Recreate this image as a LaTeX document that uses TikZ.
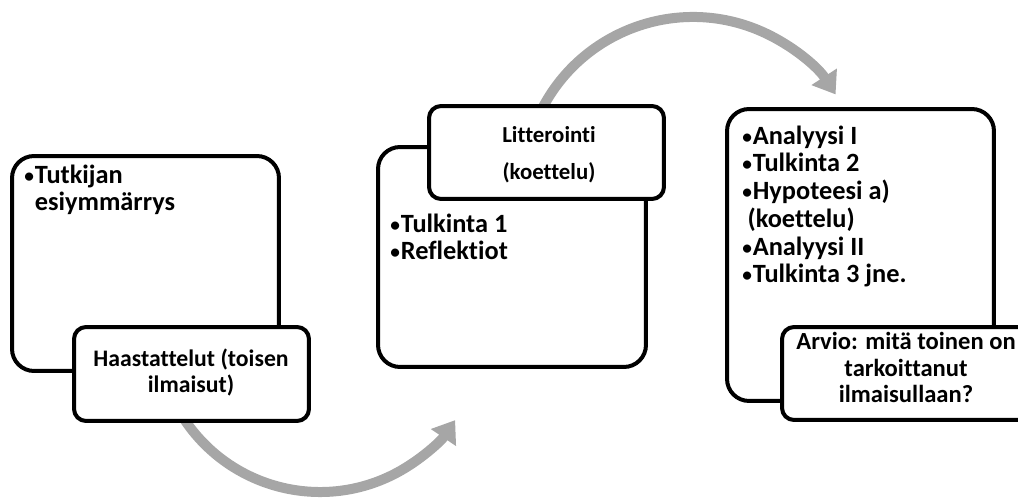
\documentclass[tikz,border=0pt]{standalone}
\usepackage{fontspec}
\setmainfont{Carlito}[Ligatures=NoCommon]
\usetikzlibrary{arrows.meta}
\definecolor{arcgray}{RGB}{166,166,166}
% small bullet with a fixed hanging indent
\newcommand\bul{\makebox[0.21cm][l]{\raisebox{0.6pt}{\fontsize{11}{11}\selectfont•}}}
\newcommand\nobul{\hspace{0.21cm}}
\begin{document}
\begin{tikzpicture}[x=0.02cm,y=-0.02cm,
  bigbox/.style={draw=black,line width=0.08cm,fill=white,rounded corners=0.44cm,inner sep=0},
  smallbox/.style={draw=black,line width=0.08cm,fill=white,rounded corners=0.24cm,inner sep=0},
  flowarc/.style={draw=arcgray,line width=0.2cm,-{Triangle[length=0.42cm,width=0.58cm]}},
  txt/.style={inner sep=0,font=\fontsize{15}{15.8}\selectfont\bfseries,align=left,anchor=base west},
  ctxt/.style={inner sep=0,align=center,anchor=base}]
\clip (0,0) rectangle (1018,499);

% curved flow arrows (drawn first so that the boxes cover their tails)
\coordinate (lowc) at (320,329);
\coordinate (topc) at (693,187);
\draw[flowarc] ([shift={(150:163)}]lowc) arc[start angle=150,end angle=34,radius=163];
\draw[flowarc] ([shift={(-156:170)}]topc) arc[start angle=-156,end angle=-33,radius=170];

% stage 1 (text nodes are anchored at the baseline of their last line)
\node[bigbox,minimum width=5.34cm,minimum height=4.3cm] (b1) at (145.5,263.5) {};
\node[txt] (t1) at (24,211) {\bul Tutkijan\\\nobul esiymmärrys};
\node[smallbox,minimum width=4.7cm,minimum height=1.88cm] (s1) at (191.5,374) {};
\node[ctxt,font=\fontsize{13.5}{14.8}\selectfont\bfseries] (l1) at (191,393) {Haastattelut (toisen\\ilmaisut)};

% stage 2
\node[bigbox,minimum width=5.36cm,minimum height=4.4cm] (b2) at (512,257) {};
\node[txt] (t2) at (390,260) {\bul Tulkinta 1\\\bul Reflektiot};
\node[smallbox,minimum width=4.7cm,minimum height=1.86cm] (s2) at (546.5,152.5) {};
\node[ctxt,font=\fontsize{13}{21.6}\selectfont\bfseries] (l2) at (549,180) {Litterointi\\(koettelu)};

% stage 3
\node[bigbox,minimum width=5.34cm,minimum height=5.84cm] (b3) at (860.5,255) {};
\node[txt] (t3) at (742,283) {\bul Analyysi I\\\bul Tulkinta 2\\\bul Hypoteesi a)\\\hspace{3pt}(koettelu)\\\bul Analyysi II\\\bul Tulkinta 3 jne.};
\node[smallbox,minimum width=4.96cm,minimum height=1.86cm] (s3) at (906,373.5) {};
\node[ctxt,font=\fontsize{14}{15.2}\selectfont\bfseries] (l3) at (906,403) {Arvio: mitä toinen on\\tarkoittanut\\ilmaisullaan?};
\end{tikzpicture}
\end{document}
